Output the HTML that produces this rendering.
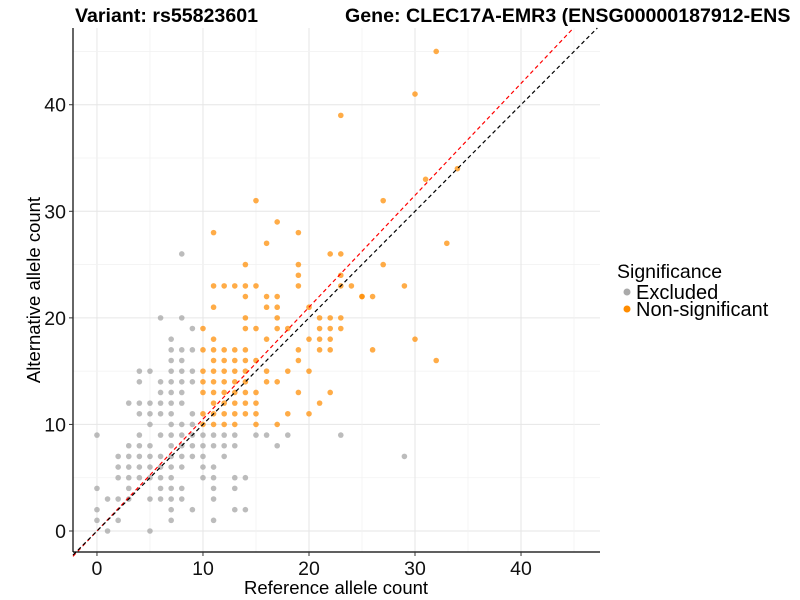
<!DOCTYPE html>
<html><head><meta charset="utf-8"><style>
body{margin:0;background:#fff;}
svg{display:block;font-family:"Liberation Sans",sans-serif;}
</style></head><body>
<svg id="chart" width="800" height="600">
<text x="75" y="22" font-size="19.6" font-weight="bold">Variant: rs55823601</text>
<text x="345" y="22" font-size="19.6" font-weight="bold">Gene: CLEC17A-EMR3 (ENSG00000187912-ENS</text>
<g id="grid"></g>
<g id="marks"></g>
<g id="axes"></g>
<text x="336" y="594" font-size="18.5" text-anchor="middle">Reference allele count</text>
<text transform="translate(40,290) rotate(-90)" font-size="18.5" text-anchor="middle">Alternative allele count</text>
<g>
<text x="617" y="278" font-size="19.5">Significance</text>
<circle cx="627" cy="292" r="3.5" fill="#aaaaaa"/>
<text x="636" y="299" font-size="20">Excluded</text>
<circle cx="627" cy="309" r="3.5" fill="#ff8c00"/>
<text x="636" y="316" font-size="20">Non-significant</text>
</g>
</svg>
<script>
const xTicks=[0,10,20,30,40];
const yTicks=[0,10,20,30,40];
const excludedPoints=[[8,26],[6,20],[8,20],[9,19],[7,18],[7,17],[8,17],[9,17],[7,16],[8,16],[4,15],[5,15],[7,15],[8,15],[9,15],[4,14],[6,14],[7,14],[8,14],[9,14],[6,13],[7,13],[8,13],[3,12],[4,12],[5,12],[6,12],[7,12],[8,12],[4,11],[5,11],[6,11],[7,11],[9,11],[5,10],[7,10],[8,10],[9,10],
[0,9],[4,9],[6,9],[7,9],[8,9],[9,9],[10,9],[11,9],[12,9],[13,9],[15,9],[16,9],[18,9],[23,9],
[3,8],[4,8],[5,8],[7,8],[8,8],[9,8],[10,8],[11,8],[12,8],[13,8],[17,8],
[2,7],[3,7],[4,7],[5,7],[6,7],[7,7],[8,7],[9,7],[10,7],[12,7],[29,7],
[2,6],[3,6],[4,6],[5,6],[6,6],[7,6],[8,6],[10,6],[11,6],
[2,5],[3,5],[4,5],[5,5],[6,5],[7,5],[10,5],[11,5],[13,5],[14,5],
[0,4],[3,4],[6,4],[7,4],[8,4],[11,4],[13,4],
[1,3],[2,3],[3,3],[5,3],[6,3],[7,3],[8,3],[11,3],
[0,2],[7,2],[9,2],[13,2],[14,2],[0,1],[2,1],[7,1],[11,1],[1,0],[5,0]];
const nonSigPoints=[[14,25],[11,23],[12,23],[13,23],[14,23],[14,22],[11,21],[14,20],[10,19],[14,19],[11,18],
[10,17],[11,17],[12,17],[13,17],[14,17],[11,16],[12,16],[13,16],[14,16],[15,16],
[10,15],[11,15],[12,15],[13,15],[14,15],[10,14],[11,14],[12,14],[13,14],[14,14],
[10,13],[11,13],[12,13],[13,13],[14,13],[15,13],[11,12],[12,12],[13,12],[14,12],[15,12],
[10,11],[11,11],[12,11],[13,11],[14,11],[15,11],[10,10],[11,10],[12,10],[13,10],[15,10],[17,10],
[15,31],[17,29],[11,28],[19,28],[16,27],[22,26],[23,26],[19,25],[19,24],[23,24],[15,23],[19,23],[23,23],[24,23],
[16,22],[17,22],[25,22],[16,21],[17,21],[20,21],[17,20],[21,20],[22,20],[15,19],[17,19],[18,19],[21,19],[22,19],[23,19],
[16,18],[20,18],[21,18],[22,18],[19,17],[21,17],[22,17],[19,16],[16,15],[18,15],[20,15],[16,14],[17,14],[19,13],[22,13],[21,12],[18,11],[20,11],
[32,45],[30,41],[23,39],[27,31],[31,33],[34,34],[33,27],[27,25],[25,22],[26,22],[29,23],[23,20],[26,17],[30,18],[32,16]];
const refSlope=[1];
const fitSlope=[1.05];

const X0=73,X1=600,Y0=28,Y1=552;
const xMin=-2.26,xMax=47.45,yMin=-1.97,yMax=47.2;
function sx(v){return X0+(v-xMin)/(xMax-xMin)*(X1-X0);}
function sy(v){return Y1-(v-yMin)/(yMax-yMin)*(Y1-Y0);}
const NS="http://www.w3.org/2000/svg";
function mk(tag,attrs,parent){const e=document.createElementNS(NS,tag);for(const k in attrs)e.setAttribute(k,attrs[k]);parent.appendChild(e);return e;}
const grid=document.getElementById('grid'),marks=document.getElementById('marks'),axes=document.getElementById('axes');
for(let v=-5;v<=50;v+=5){
  const major=v%10===0;
  if(v>xMin&&v<xMax){const l=mk('line',{x1:sx(v),x2:sx(v),y1:Y0,y2:Y1,stroke:major?'#e6e6e6':'#f2f2f2','stroke-width':major?1:0.8},grid);
    
    }
  if(v>yMin&&v<yMax){const l=mk('line',{x1:X0,x2:X1,y1:sy(v),y2:sy(v),stroke:major?'#e6e6e6':'#f2f2f2','stroke-width':major?1:0.8},grid);
    
    }
}
excludedPoints.forEach(p=>{const c=mk('circle',{cx:sx(p[0]),cy:sy(p[1]),r:2.8,fill:'rgba(165,165,165,0.75)'},marks);
  
  });
nonSigPoints.forEach(p=>{const c=mk('circle',{cx:sx(p[0]),cy:sy(p[1]),r:2.8,fill:'rgba(255,140,0,0.72)'},marks);
  
  });
function diag(slope,color,name){
  let xe=Math.min(xMax,yMax/slope);
  const l=mk('line',{x1:sx(xMin),y1:sy(xMin*slope),x2:sx(xe),y2:sy(xe*slope),stroke:color,'stroke-width':1.2,'stroke-dasharray':'4,3'},marks);
  
  
}
diag(fitSlope[0],'#ff0000','fit-line');
diag(refSlope[0],'#000000','identity-line');
let a=mk('line',{x1:X0,x2:X0,y1:Y0,y2:Y1,stroke:'#000','stroke-width':1.2},axes);


a=mk('line',{x1:X0,x2:X1,y1:Y1,y2:Y1,stroke:'#000','stroke-width':1.2},axes);


xTicks.forEach(v=>{const t=mk('line',{x1:sx(v),x2:sx(v),y1:Y1,y2:Y1+4,stroke:'#333'},axes);
  
  
  const s=mk('text',{x:sx(v),y:575,'font-size':19.5,'text-anchor':'middle',fill:'#111'},axes);s.textContent=v;
  
  });
yTicks.forEach(v=>{const t=mk('line',{x1:X0-4,x2:X0,y1:sy(v),y2:sy(v),stroke:'#333'},axes);
  
  
  const s=mk('text',{x:66,y:sy(v)+7,'font-size':19.5,'text-anchor':'end',fill:'#111'},axes);s.textContent=v;
  
  });
</script>
</body></html>
